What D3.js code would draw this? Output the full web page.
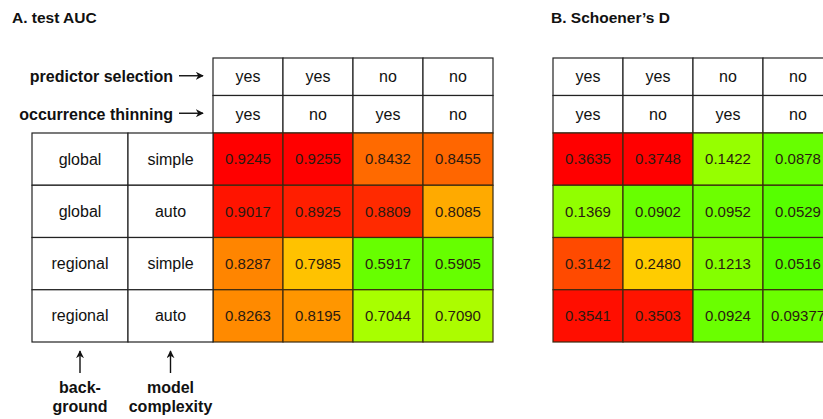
<!DOCTYPE html>
<html>
<head>
<meta charset="utf-8">
<script src="https://cdn.jsdelivr.net/npm/d3@7"></script>
<style>
  html, body { margin: 0; padding: 0; background: #fff; overflow: hidden; }
  svg { display: block; font-family: "Liberation Sans", Arial, sans-serif; }
</style>
</head>
<body>
<svg id="chart" width="823" height="419"></svg>
<script>
// Column factors (header rows)
const predictorSelection = ["yes", "yes", "no", "no"];
const occurrenceThinning = ["yes", "no", "yes", "no"];
// Row factors (left label columns)
const background = ["global", "global", "regional", "regional"];
const modelComplexity = ["simple", "auto", "simple", "auto"];

// Panel A: test AUC, one array per row
const aucGlobalSimple   = [0.9245, 0.9255, 0.8432, 0.8455];
const aucGlobalAuto     = [0.9017, 0.8925, 0.8809, 0.8085];
const aucRegionalSimple = [0.8287, 0.7985, 0.5917, 0.5905];
const aucRegionalAuto   = [0.8263, 0.8195, 0.7044, 0.7090];

// Panel B: Schoener's D, one array per row
const dGlobalSimple   = [0.3635, 0.3748, 0.1422, 0.0878];
const dGlobalAuto     = [0.1369, 0.0902, 0.0952, 0.0529];
const dRegionalSimple = [0.3142, 0.2480, 0.1213, 0.0516];
const dRegionalAuto   = [0.3541, 0.3503, 0.0924, 0.09377];

const aucRows = [aucGlobalSimple, aucGlobalAuto, aucRegionalSimple, aucRegionalAuto];
const dRows = [dGlobalSimple, dGlobalAuto, dRegionalSimple, dRegionalAuto];

// Green → yellow → red colour ramps
const aucColor = d3.scaleLinear()
  .domain([0.59, 0.705, 0.7985, 0.8085, 0.8263, 0.8432, 0.8809, 0.9017, 0.9245])
  .range(["#66ff00", "#a8ff00", "#ffc200", "#ffaa00", "#ff8a00", "#ff6a00", "#ff2a00", "#ff1400", "#ff0000"])
  .clamp(true);
const dColor = d3.scaleLinear()
  .domain([0.05, 0.09, 0.1422, 0.248, 0.3142, 0.35, 0.3635])
  .range(["#55ff00", "#68ff00", "#96ff00", "#ffcc00", "#ff4a00", "#ff1400", "#ff0000"])
  .clamp(true);

const fmt = v => {
  const fixed = v.toFixed(4);
  const raw = String(v);
  return raw.length > fixed.length ? raw : fixed;
};

const svg = d3.select("#chart");

svg.append("defs").append("marker")
  .attr("id", "head")
  .attr("viewBox", "0 0 10 10")
  .attr("refX", 9).attr("refY", 5)
  .attr("markerWidth", 8).attr("markerHeight", 8)
  .attr("markerUnits", "userSpaceOnUse")
  .attr("orient", "auto")
  .append("path")
  .attr("d", "M0,0 L10,5 L0,10 L3,5 Z")
  .attr("fill", "#111");

const colIdx = d3.range(4);
const rowIdx = d3.range(4);
const headY = d3.scaleBand().domain([0, 1]).range([58, 133]);
const rowY = d3.scaleBand().domain(rowIdx).range([133, 342]);

function panel(x0, titleX, title, rows, color) {
  const x = d3.scaleBand().domain(colIdx).range([x0, x0 + 280]);
  const g = svg.append("g");

  g.append("text")
    .attr("x", titleX).attr("y", 23)
    .attr("font-weight", "bold").attr("font-size", 15.5).attr("fill", "#111")
    .text(title);

  // header rows
  [predictorSelection, occurrenceThinning].forEach((arr, r) => {
    const hg = g.append("g");
    hg.selectAll("rect").data(arr).join("rect")
      .attr("x", (d, i) => x(i)).attr("y", headY(r))
      .attr("width", x.bandwidth()).attr("height", headY.bandwidth())
      .attr("fill", "#fff").attr("stroke", "#222").attr("stroke-width", 1.2);
    hg.selectAll("text").data(arr).join("text")
      .attr("x", (d, i) => x(i) + x.bandwidth() / 2)
      .attr("y", headY(r) + headY.bandwidth() / 2)
      .attr("dy", "0.35em").attr("text-anchor", "middle")
      .attr("font-size", 16).attr("fill", "#111")
      .text(d => d);
  });

  // value cells
  rows.forEach((vals, r) => {
    const rg = g.append("g");
    rg.selectAll("rect").data(vals).join("rect")
      .attr("x", (d, i) => x(i)).attr("y", rowY(r))
      .attr("width", x.bandwidth()).attr("height", rowY.bandwidth())
      .attr("fill", d => color(d)).attr("stroke", "#3a2a10").attr("stroke-width", 1.2);
    rg.selectAll("text").data(vals).join("text")
      .attr("x", (d, i) => x(i) + x.bandwidth() / 2)
      .attr("y", rowY(r) + rowY.bandwidth() / 2)
      .attr("dy", "0.35em").attr("text-anchor", "middle")
      .attr("font-size", 15).attr("fill", "#2a1a10")
      .text(d => fmt(d));
  });
}

panel(213, 12, "A. test AUC", aucRows, aucColor);
panel(553, 551, "B. Schoener\u2019s D", dRows, dColor);

// Left label table
const labCols = [background, modelComplexity];
const labEdges = [32, 128, 213];
labCols.forEach((arr, c) => {
  const lg = svg.append("g");
  lg.selectAll("rect").data(arr).join("rect")
    .attr("x", labEdges[c]).attr("y", (d, i) => rowY(i))
    .attr("width", labEdges[c + 1] - labEdges[c]).attr("height", rowY.bandwidth())
    .attr("fill", "#fff").attr("stroke", "#222").attr("stroke-width", 1.2);
  lg.selectAll("text").data(arr).join("text")
    .attr("x", (labEdges[c] + labEdges[c + 1]) / 2)
    .attr("y", (d, i) => rowY(i) + rowY.bandwidth() / 2)
    .attr("dy", "0.35em").attr("text-anchor", "middle")
    .attr("font-size", 16).attr("fill", "#111")
    .text(d => d);
});

// Header row captions with right-pointing arrows
const headCaptions = ["predictor selection", "occurrence thinning"];
headCaptions.forEach((t, r) => {
  const cy = headY(r) + headY.bandwidth() / 2;
  svg.append("text")
    .attr("x", 173).attr("y", cy).attr("dy", "0.33em")
    .attr("text-anchor", "end").attr("font-weight", "bold")
    .attr("font-size", 16).attr("fill", "#111")
    .text(t);
  svg.append("line")
    .attr("x1", 179).attr("x2", 203).attr("y1", cy - 1).attr("y2", cy - 1)
    .attr("stroke", "#111").attr("stroke-width", 1.4)
    .attr("marker-end", "url(#head)");
});

// Column captions below the label table, with upward arrows
const footCaptions = [["back-", "ground"], ["model", "complexity"]];
footCaptions.forEach((lines, c) => {
  const cx = (labEdges[c] + labEdges[c + 1]) / 2;
  svg.append("line")
    .attr("x1", cx).attr("x2", cx).attr("y1", 373).attr("y2", 351)
    .attr("stroke", "#111").attr("stroke-width", 1.4)
    .attr("marker-end", "url(#head)");
  lines.forEach((t, k) => {
    svg.append("text")
      .attr("x", cx).attr("y", 393 + k * 19)
      .attr("text-anchor", "middle").attr("font-weight", "bold")
      .attr("font-size", 16).attr("fill", "#111")
      .text(t);
  });
});
</script>
</body>
</html>
